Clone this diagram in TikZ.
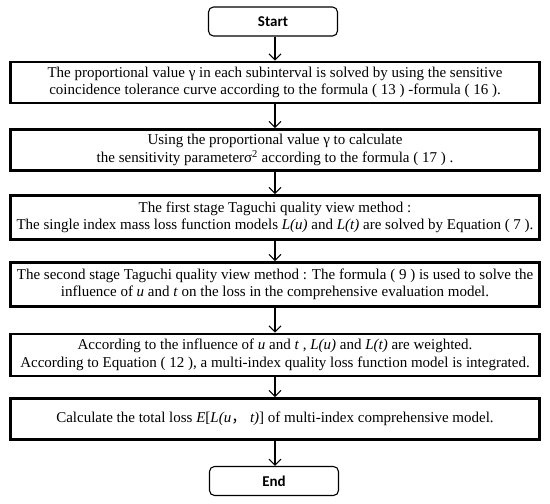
\documentclass[tikz,border=0pt]{standalone}
\usepackage{fontspec}
\setmainfont{Liberation Serif}
\newfontfamily\startendfont{Carlito}
\newfontfamily\cjk{Noto Sans CJK SC}
\usetikzlibrary{arrows.meta}
\tikzset{
  stepbox/.style={draw=black, line width=2.7pt, minimum width=529pt, align=center,
    font=\fontsize{15}{17.5}\selectfont, inner sep=0pt},
  termbox/.style={draw=black, line width=1.1pt, rounded corners=5pt, minimum width=129pt,
    minimum height=29pt, font=\startendfont\bfseries\fontsize{15}{17}\selectfont},
  flow/.style={line width=1.1pt, -{Straight Barb[length=6pt,width=12pt,line width=1.1pt]}}
}
\begin{document}
\begin{tikzpicture}[x=1pt,y=-1pt]
\useasboundingbox[fill=white] (0,0) rectangle (550,504);
% Drawing terminals
\node[termbox] (start) at (273,21.5) {Start};
\node[termbox] (end) at (274,481) {End};
% Drawing steps
\node[stepbox, minimum height=41pt] (s1) at (275,82.5) {The proportional value γ in each subinterval is solved by using the sensitive\\coincidence tolerance curve according to the formula ( 13 ) -formula ( 16 ).};
\node[stepbox, minimum height=41pt] (s2) at (275,150) {Using the proportional value γ to calculate\\the sensitivity parameterσ\textsuperscript{2} according to the formula ( 17 ) .};
\node[stepbox, minimum height=44pt] (s3) at (275,217.5) {The first stage Taguchi quality view method :\\The single index mass loss function models \textit{L(u)} and \textit{L(t)} are solved by Equation ( 7 ).};
\node[stepbox, minimum height=44pt] (s4) at (275,284.5) {The second stage Taguchi quality view method : The formula ( 9 ) is used to solve the\\influence of \textit{u} and \textit{t} on the loss in the comprehensive evaluation model.};
\node[stepbox, minimum height=42pt] (s5) at (275,355) {According to the influence of \textit{u} and \textit{t} , \textit{L(u)} and \textit{L(t)} are weighted.\\According to Equation ( 12 ), a multi-index quality loss function model is integrated.};
\node[stepbox, minimum height=41pt] (s6) at (275,419) {Calculate the total loss \textit{E}[\textit{L(u}{\cjk ，}\textit{ t)}] of multi-index comprehensive model.};
% Drawing connectors
\draw[flow] (start.south-|s1) -- (s1.north);
\draw[flow] (s1) -- (s2);
\draw[flow] (s2) -- (s3);
\draw[flow] (s3) -- (s4);
\draw[flow] (s4) -- (s5);
\draw[flow] (s5) -- (s6);
\draw[flow] (s6.south) -- (s6.south|-end.north);
\end{tikzpicture}
\end{document}
